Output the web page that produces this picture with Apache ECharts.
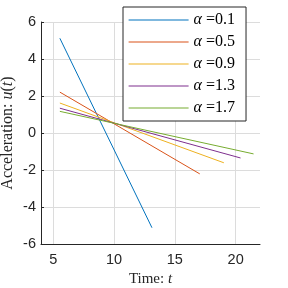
<!DOCTYPE html>
<html><head><meta charset="utf-8">
<script src="https://cdn.jsdelivr.net/npm/echarts@6/dist/echarts.min.js"></script>
<style>html,body{margin:0;padding:0;background:#fff}#c{width:288px;height:288px}</style>
</head><body><div id="c"></div>
<script>
const alphas = ['0.1', '0.5', '0.9', '1.3', '1.7'];
const colors = ['#0072BD', '#D95319', '#EDB120', '#7E2F8E', '#77AC30'];
// endpoints [t, u]
const line01 = [[5.55, 5.12], [13.12, -5.12]];
const line05 = [[5.55, 2.21], [17.05, -2.21]];
const line09 = [[5.55, 1.62], [19.03, -1.61]];
const line13 = [[5.55, 1.34], [20.4, -1.35]];
const line17 = [[5.55, 1.17], [21.47, -1.13]];
const seriesData = [line01, line05, line09, line13, line17];
const xTicks = [5, 10, 15, 20];
const yTicks = [-6, -4, -2, 0, 2, 4, 6];

const chart = echarts.init(document.getElementById('c'), null, {renderer: 'canvas'});
const serif = 'Liberation Serif';
const sans = 'Liberation Sans';
chart.setOption({
  animation: false,
  color: colors,
  grid: {left: 41, right: 28, top: 22, bottom: 44, containLabel: false, outerBoundsMode: 'none'},
  legend: {
    orient: 'vertical', left: 123, top: 7,
    backgroundColor: '#fff', borderColor: '#262626', borderWidth: 1,
    padding: [5, 11, 5, 5], itemWidth: 60, itemHeight: 14, itemGap: 6,
    data: alphas.map((a, i) => ({
      name: 'α =' + a,
      itemStyle: {color: colors[i], opacity: 0},
      lineStyle: {color: colors[i], width: 1.2, opacity: 1}
    })),
    formatter: n => '{i|α} =' + n.slice(3),
    textStyle: {fontFamily: serif, fontSize: 16, color: '#000', lineHeight: 14,
      rich: {i: {fontFamily: serif, fontStyle: 'italic', fontSize: 16, color: '#000'}}}
  },
  xAxis: {
    type: 'value', min: 4, max: 22,
    name: '{n|Time: }{i|t}', nameLocation: 'middle', nameGap: 28, nameMoveOverlap: false,
    nameTextStyle: {rich: {
      n: {fontFamily: serif, fontSize: 15, color: '#262626'},
      i: {fontFamily: serif, fontSize: 15, fontStyle: 'italic', color: '#262626'}}},
    axisLine: {onZero: false, lineStyle: {color: '#262626', width: 1}},
    axisTick: {inside: true, length: 3, customValues: xTicks, lineStyle: {color: '#262626'}},
    axisLabel: {customValues: xTicks, fontFamily: sans, fontSize: 14.5, color: '#262626', margin: 8},
    splitLine: {show: false}
  },
  yAxis: {
    type: 'value', min: yTicks[0], max: yTicks[yTicks.length - 1], interval: 2,
    name: '{n|Acceleration: }{i|u}{n|(}{i|t}{n|)}', nameLocation: 'middle', nameGap: 25, nameRotate: 90,
    nameMoveOverlap: false,
    nameTextStyle: {rich: {
      n: {fontFamily: serif, fontSize: 16, color: '#262626'},
      i: {fontFamily: serif, fontSize: 16, fontStyle: 'italic', color: '#262626'}}},
    axisLine: {show: true, onZero: false, lineStyle: {color: '#262626', width: 1}},
    axisTick: {show: true, inside: true, length: 3, lineStyle: {color: '#262626'}},
    axisLabel: {fontFamily: sans, fontSize: 14.5, color: '#262626', margin: 5},
    splitLine: {show: true, lineStyle: {color: '#dcdcdc', width: 1}}
  },
  series: seriesData.map((d, i) => ({
    name: 'α =' + alphas[i], type: 'line', data: d, symbol: 'none',
    lineStyle: {color: colors[i], width: 1}, itemStyle: {color: colors[i]},
    z: 3,
    markLine: i === 0 ? {
      silent: true, symbol: 'none', label: {show: false}, z: 1,
      lineStyle: {color: '#dcdcdc', width: 1, type: 'solid'},
      data: xTicks.map(v => ({xAxis: v}))
    } : undefined
  }))
});
</script></body></html>
